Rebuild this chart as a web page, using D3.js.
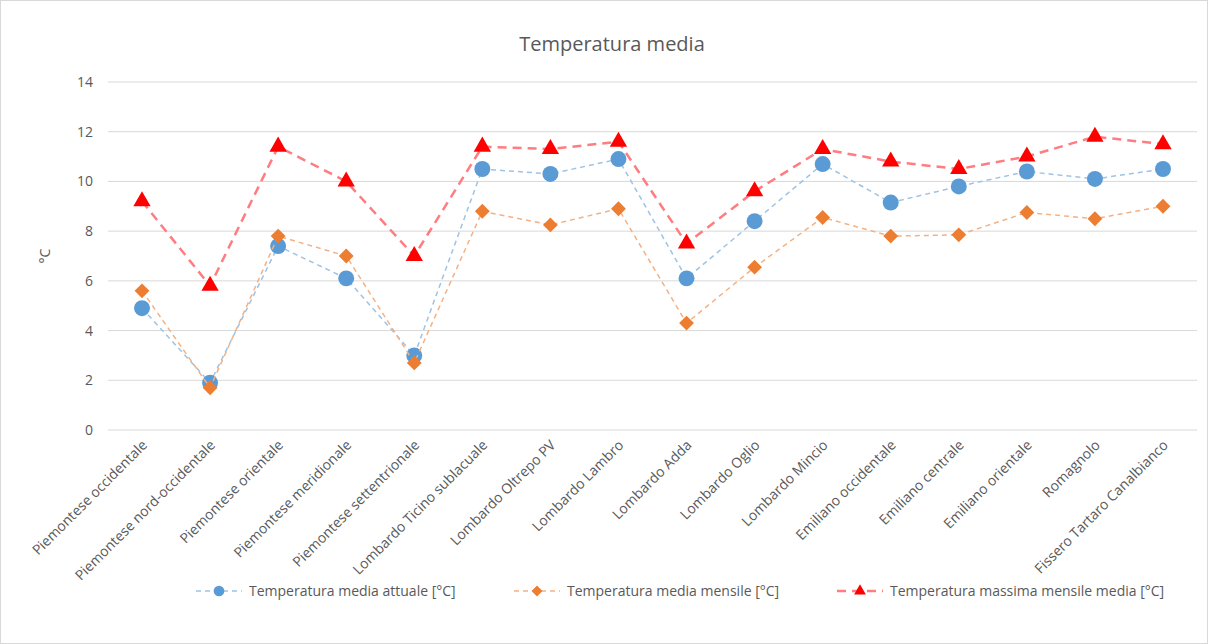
<!DOCTYPE html>
<html><head><meta charset="utf-8">
<script src="https://cdn.jsdelivr.net/npm/d3@7"></script>
<style>body{margin:0;background:#fff;font-family:"Open Sans",Calibri,sans-serif}</style>
</head><body><div id="chart"></div>
<script>
// Data
const categories = ["Piemontese occidentale","Piemontese nord-occidentale","Piemontese orientale","Piemontese meridionale","Piemontese settentrionale","Lombardo Ticino sublacuale","Lombardo Oltrepo PV","Lombardo Lambro","Lombardo Adda","Lombardo Oglio","Lombardo Mincio","Emiliano occidentale","Emiliano centrale","Emiliano orientale","Romagnolo","Fissero Tartaro Canalbianco"];
const attuale = [4.9,1.9,7.4,6.1,3.0,10.5,10.3,10.9,6.1,8.4,10.7,9.15,9.8,10.4,10.1,10.5];
const mensile = [5.6,1.7,7.8,7.0,2.7,8.8,8.25,8.9,4.3,6.55,8.55,7.8,7.85,8.75,8.5,9.0];
const massima = [9.2,5.8,11.4,10.0,7.0,11.4,11.3,11.6,7.5,9.6,11.3,10.8,10.5,11.0,11.8,11.5];
const yTicks = [0,2,4,6,8,10,12,14];

const W = 1208, H = 644;
const svg = d3.select("#chart").append("svg").attr("width", W).attr("height", H);
svg.append("rect").attr("x",0.5).attr("y",0.5).attr("width",W-1).attr("height",H-1)
    .attr("fill","#fff").attr("stroke","#d9d9d9");

const x = d3.scalePoint().domain(categories).range([142, 1163]);
const y = d3.scaleLinear().domain([0, 14]).range([430, 82]);

// Grid
svg.selectAll("line.grid").data(yTicks).enter().append("line")
    .attr("x1",108).attr("x2",1197).attr("y1",d=>y(d)).attr("y2",d=>y(d))
    .attr("stroke","#d9d9d9").attr("stroke-width",1);
svg.selectAll("text.yt").data(yTicks).enter().append("text")
    .attr("x",93).attr("y",d=>y(d)+5).attr("text-anchor","end")
    .attr("font-size",14).attr("fill","#595959").text(d=>d);

svg.append("text").attr("x",612).attr("y",51).attr("text-anchor","middle")
    .attr("font-size",20).attr("fill","#595959").text("Temperatura  media");
svg.append("text").attr("transform","translate(50,256) rotate(-90)").attr("text-anchor","middle")
    .attr("font-size",14).attr("fill","#595959").text("°C");

// X labels
svg.selectAll("text.xl").data(categories).enter().append("text")
    .attr("transform",d=>`translate(${x(d)+6},446) rotate(-45)`)
    .attr("text-anchor","end").attr("font-size",14).attr("fill","#595959").text(d=>d);

const series = [
  {name:"Temperatura media attuale [°C]", vals:attuale, line:"#9dc3e6", fill:"#5b9bd5", dash:"5,4", w:1.5, shape:"circle"},
  {name:"Temperatura media mensile [°C]", vals:mensile, line:"#f4b183", fill:"#ed7d31", dash:"5,4", w:1.5, shape:"diamond"},
  {name:"Temperatura massima mensile media [°C]", vals:massima, line:"#ff7c80", fill:"#ff0000", dash:"9,6", w:2.5, shape:"triangle"}
];
const sym = {circle:d3.symbol().type(d3.symbolCircle).size(200),
             diamond:d3.symbol().type(d3.symbolSquare).size(110),
             triangle:d3.symbol().type(d3.symbolTriangle).size(130)};
const rot = s => s==="diamond" ? " rotate(45)" : "";
const line = d3.line().x((d,i)=>x(categories[i])).y(d=>y(d));

series.forEach(s=>{
  svg.append("path").attr("d",line(s.vals)).attr("fill","none")
     .attr("stroke",s.line).attr("stroke-width",s.w).attr("stroke-dasharray",s.dash);
  svg.selectAll(null).data(s.vals).enter().append("path")
     .attr("d",sym[s.shape]())
     .attr("transform",(d,i)=>`translate(${x(categories[i])},${y(d)})${rot(s.shape)}`)
     .attr("fill",s.fill);
});

// Legend
const lx = [196, 514, 837];
series.forEach((s,i)=>{
  const g = svg.append("g").attr("transform",`translate(${lx[i]},591)`);
  g.append("line").attr("x1",0).attr("x2",46).attr("stroke",s.line)
   .attr("stroke-width",s.w).attr("stroke-dasharray",s.dash);
  g.append("path").attr("d",d3.symbol().type(s.shape==="circle"?d3.symbolCircle:s.shape==="diamond"?d3.symbolSquare:d3.symbolTriangle).size(s.shape==="circle"?90:60)())
   .attr("transform",`translate(23,0)${rot(s.shape)}`).attr("fill",s.fill);
  g.append("text").attr("x",53).attr("y",5).attr("font-size",14).attr("fill","#595959").text(s.name);
});
</script></body></html>
